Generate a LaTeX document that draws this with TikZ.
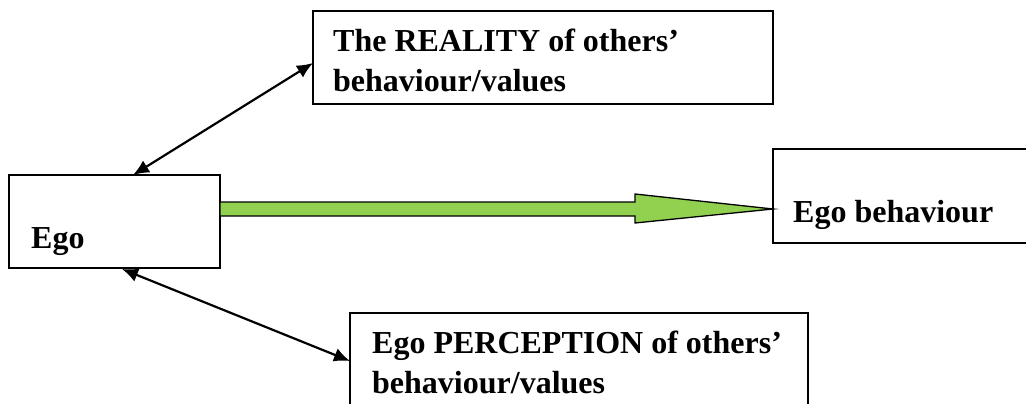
\documentclass[tikz,border=0pt]{standalone}
\usepackage{fontspec}
\setmainfont{Liberation Serif}
\usetikzlibrary{calc,arrows.meta}
\definecolor{arrowgreen}{HTML}{92D050}
\begin{document}
\begin{tikzpicture}[x=1pt,y=-1pt,
  box/.style={draw=black,line width=2pt,rectangle,anchor=north west,inner sep=0pt,outer sep=0pt},
  lbl/.style={anchor=base west,inner sep=0pt,font=\bfseries\fontsize{32}{38}\selectfont},
  link/.style={line width=2.2pt,{Latex[length=16pt,width=14pt]}-{Latex[length=16pt,width=14pt]}},
  bigarrow/.style={draw=black,line width=1.3pt,fill=arrowgreen,line join=miter}
]
\useasboundingbox (0,0) rectangle (1026,404);
\clip (0,0) rectangle (1026,404);

% boxes
\node[box,minimum width=211pt,minimum height=93pt] (ego)  at (9,175)   {};
\node[box,minimum width=460pt,minimum height=93pt] (real) at (313,11)  {};
\node[box,minimum width=400pt,minimum height=94pt] (beh)  at (773,149) {};
\node[box,minimum width=458pt,minimum height=120pt] (perc) at (350,313) {};

% labels
\node[lbl] (tego)  at (31,248)  {Ego};
\node[lbl] (tbeh)  at (793,222) {Ego behaviour};
\node[lbl] (treal1) at (333,52) {The REALITY of others’};
\node[lbl] (treal2) at (333,92) {behaviour/values};
\node[lbl] (tperc1) at (372,353) {Ego PERCEPTION of others’};
\node[lbl] (tperc2) at (372,393) {behaviour/values};

% two-way links
\draw[link] ($(ego.north west)+(124,0)$) -- ($(real.north west)+(0,52)$);
\draw[link] ($(ego.south west)+(113,1)$) -- ($(perc.north west)+(0,48)$);

% block arrow from Ego to Ego behaviour
\coordinate (tip) at ($(beh.north west)+(0,60)$);
\draw[bigarrow] ($(ego.north east)+(0,27)$) -- ($(tip)+(-138,-7)$) -- ($(tip)+(-138,-15)$)
  -- (tip) -- ($(tip)+(-138,14)$) -- ($(tip)+(-138,7)$) -- ($(ego.north east)+(0,41)$) -- cycle;
\end{tikzpicture}
\end{document}
